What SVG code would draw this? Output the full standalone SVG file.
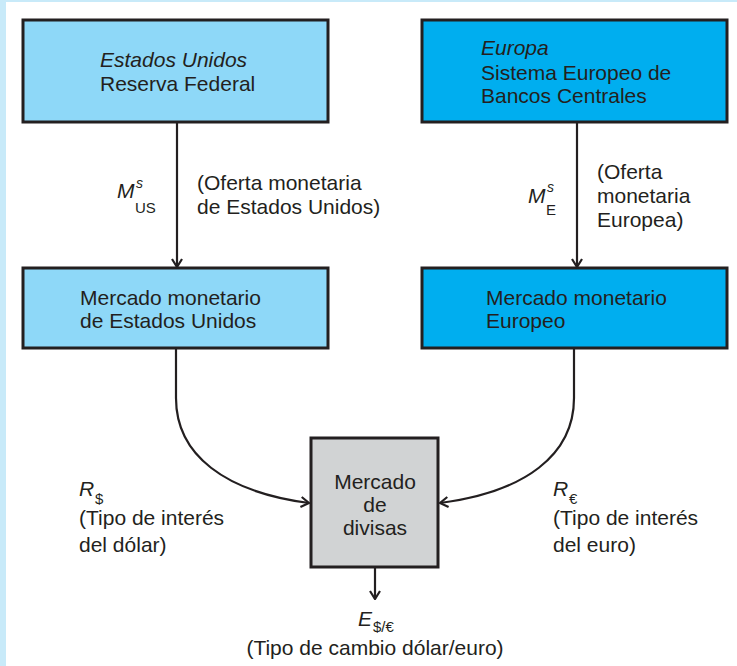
<svg xmlns="http://www.w3.org/2000/svg" width="737" height="666" viewBox="0 0 737 666">
<defs>
<marker id="arr" viewBox="0 0 12 12" refX="11" refY="6" markerWidth="12" markerHeight="12" markerUnits="userSpaceOnUse" orient="auto">
<polyline points="3,1 11,6 3,11" fill="none" stroke="#231F20" stroke-width="2.2"/>
</marker>
<style>
.box{stroke:#231F20;stroke-width:3}
.t{font-family:"Liberation Sans",Arial,sans-serif;font-size:21px;fill:#231F20}
.i{font-style:italic}
.s{font-size:14px}
.c{stroke:#231F20;stroke-width:2.2;fill:none}
</style>
</defs>
<rect x="0" y="0" width="737" height="666" fill="#ffffff"/>
<rect x="0" y="0" width="737" height="2" fill="#C8EAF9"/>
<rect x="0" y="0" width="6" height="666" fill="#C8EAF9"/>

<g id="connectors">
<line class="c" x1="177" y1="122" x2="177" y2="267" marker-end="url(#arr)"/>
<line class="c" x1="577" y1="122" x2="577" y2="267" marker-end="url(#arr)"/>
<path class="c" d="M176,348 V398 C176,455 225,492 309,503" marker-end="url(#arr)"/>
<path class="c" d="M574,348 V398 C574,455 525,492 440,503" marker-end="url(#arr)"/>
<line class="c" x1="375" y1="567" x2="375" y2="599" marker-end="url(#arr)"/>
</g>

<g id="fed">
<rect class="box" x="23" y="20" width="305" height="102" fill="#8ED8F8"/>
<text class="t i" x="100" y="67">Estados Unidos</text>
<text class="t" x="100" y="91">Reserva Federal</text>
</g>

<g id="sebc">
<rect class="box" x="422" y="20" width="305" height="102" fill="#00AEEF"/>
<text class="t i" x="481" y="55">Europa</text>
<text class="t" x="481" y="80">Sistema Europeo de</text>
<text class="t" x="481" y="103">Bancos Centrales</text>
</g>

<g id="mm-us">
<rect class="box" x="23" y="268" width="305" height="80" fill="#8ED8F8"/>
<text class="t" x="80" y="305">Mercado monetario</text>
<text class="t" x="80" y="328">de Estados Unidos</text>
</g>

<g id="mm-eu">
<rect class="box" x="422" y="268" width="305" height="80" fill="#00AEEF"/>
<text class="t" x="486" y="305">Mercado monetario</text>
<text class="t" x="486" y="328">Europeo</text>
</g>

<g id="divisas">
<rect class="box" x="311" y="438" width="127" height="129" fill="#D1D3D4"/>
<text class="t" x="375" y="489" text-anchor="middle">Mercado</text>
<text class="t" x="375" y="512" text-anchor="middle">de</text>
<text class="t" x="375" y="535" text-anchor="middle">divisas</text>
</g>

<g id="labels">
<text class="t i" x="117" y="198">M</text>
<text class="t i s" x="136" y="188">s</text>
<text class="t" x="135" y="213" style="font-size:15px">US</text>
<text class="t" x="197" y="190">(Oferta monetaria</text>
<text class="t" x="197" y="214">de Estados Unidos)</text>

<text class="t i" x="528" y="203">M</text>
<text class="t i s" x="547" y="192">s</text>
<text class="t" x="546" y="215" style="font-size:15px">E</text>
<text class="t" x="597" y="179">(Oferta</text>
<text class="t" x="597" y="203">monetaria</text>
<text class="t" x="597" y="227">Europea)</text>

<text class="t i" x="79" y="496">R</text>
<text class="t" x="95" y="504" style="font-size:15px">$</text>
<text class="t" x="79" y="525">(Tipo de interés</text>
<text class="t" x="79" y="552">del dólar)</text>

<text class="t i" x="553" y="496">R</text>
<text class="t" x="569" y="504" style="font-size:15px">€</text>
<text class="t" x="553" y="525">(Tipo de interés</text>
<text class="t" x="553" y="552">del euro)</text>

<text class="t i" x="358" y="626">E</text>
<text class="t" x="373" y="632" style="font-size:15px">$/€</text>
<text class="t" x="375" y="655" text-anchor="middle">(Tipo de cambio dólar/euro)</text>
</g>
</svg>
